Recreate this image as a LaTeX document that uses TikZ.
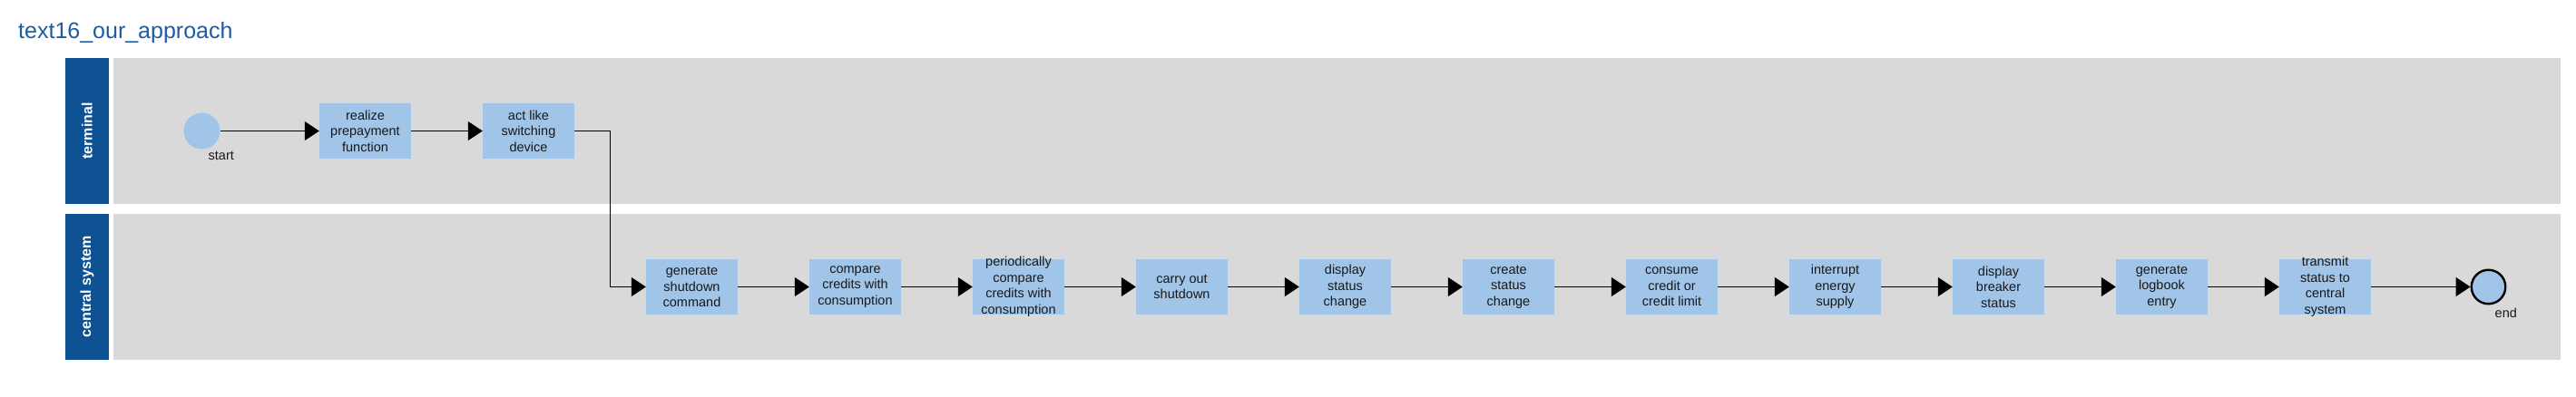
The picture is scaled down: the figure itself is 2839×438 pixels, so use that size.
\documentclass[tikz,border=0pt]{standalone}
\usepackage{fontspec}
\setmainfont{Liberation Sans}
\definecolor{LaneBlue}{HTML}{0E5293}
\definecolor{TitleBlue}{HTML}{1B5CA3}
\definecolor{TaskBlue}{HTML}{A0C5E9}
\definecolor{LaneGray}{HTML}{D9D9D9}
\usetikzlibrary{arrows.meta}
\usetikzlibrary{positioning}
\tikzset{
	lanehead/.style={fill=LaneBlue, rotate=90, minimum width=161pt, minimum height=48pt, inner sep=0pt,
		text=white, font=\bfseries\fontsize{16}{19}\selectfont},
	lanebody/.style={fill=LaneGray, minimum width=2697pt, minimum height=161pt, inner sep=0pt},
	taskbox/.style={fill=TaskBlue, minimum width=101pt, minimum height=61pt, inner sep=0pt},
	tasktext/.style={align=center, inner sep=0pt, text=black!90, font=\fontsize{14.5}{17.5}\selectfont},
	startevent/.style={circle, fill=TaskBlue, minimum size=40pt, inner sep=0pt},
	endevent/.style={circle, fill=TaskBlue, draw=black, line width=2.4pt, minimum size=37.5pt, inner sep=0pt},
	eventlabel/.style={anchor=north west, inner sep=0pt, text=black!90, font=\fontsize{14.5}{17.5}\selectfont},
	flow/.style={arrows={-Triangle[length=16pt, width=21pt]}, line width=1pt}
}
\begin{document}
\begin{tikzpicture}[x=1pt, y=-1pt]
    \useasboundingbox (0,0) rectangle (2839,438);
    \def\dx{180}
    \def\xa{402.5}
    % title and lanes
    \node[anchor=base west, inner sep=0pt, text=TitleBlue, font=\fontsize{25}{30}\selectfont] (title) at (20,43) {text16\_our\_approach};
    \node[lanehead] (terminal) at (96,144.5) {terminal};
    \node[lanebody] (terminallane) at (1473.5,144.5) {};
    \node[lanehead] (central) at (96,316.5) {central system};
    \node[lanebody] (centrallane) at (1473.5,316.5) {};

    % terminal
    \node[startevent] (start) at (\xa-\dx,144.5) {};
    \node[eventlabel] (startlabel) at ([xshift=7pt, yshift=-2pt]start.south) {start};
    \node[taskbox, label={[tasktext]center:realize\\prepayment\\function}] (prepay) at (\xa,144.5) {};
    \node[taskbox, label={[tasktext]center:act like\\switching\\device}] (switch) at (\xa+\dx,144.5) {};
    \draw[flow] (start.east) -- (prepay.west);
    \draw[flow] (prepay.east) -- (switch.west);

    % central system
    \foreach \t [count=\i] in {{generate\\shutdown\\command}, {compare\\credits with\\consumption},
        {periodically\\compare\\credits with\\consumption}, {carry out\\shutdown}, {display\\status\\change},
        {create\\status\\change}, {consume\\credit or\\credit limit}, {interrupt\\energy\\supply},
        {display\\breaker\\status}, {generate\\logbook\\entry}, {transmit\\status to\\central\\system}} {
        \node[taskbox, label={[tasktext]center:\t}] (c\i) at (\xa+\dx*\i+\dx,316.5) {};
    }
    \node[endevent] (end) at (\xa+13*\dx,316.5) {};
    \node[eventlabel] (endlabel) at ([xshift=7pt, yshift=-3pt]end.south) {end};

    \draw[flow] (switch.east) -- ++(39,0) |- (c1.west);
    \foreach \i in {2,...,11} {
        \pgfmathtruncatemacro\j{\i-1}
        \draw[flow] (c\j.east) -- (c\i.west);
    }
    \draw[flow] (c11.east) -- (end.west);
\end{tikzpicture}
\end{document}
